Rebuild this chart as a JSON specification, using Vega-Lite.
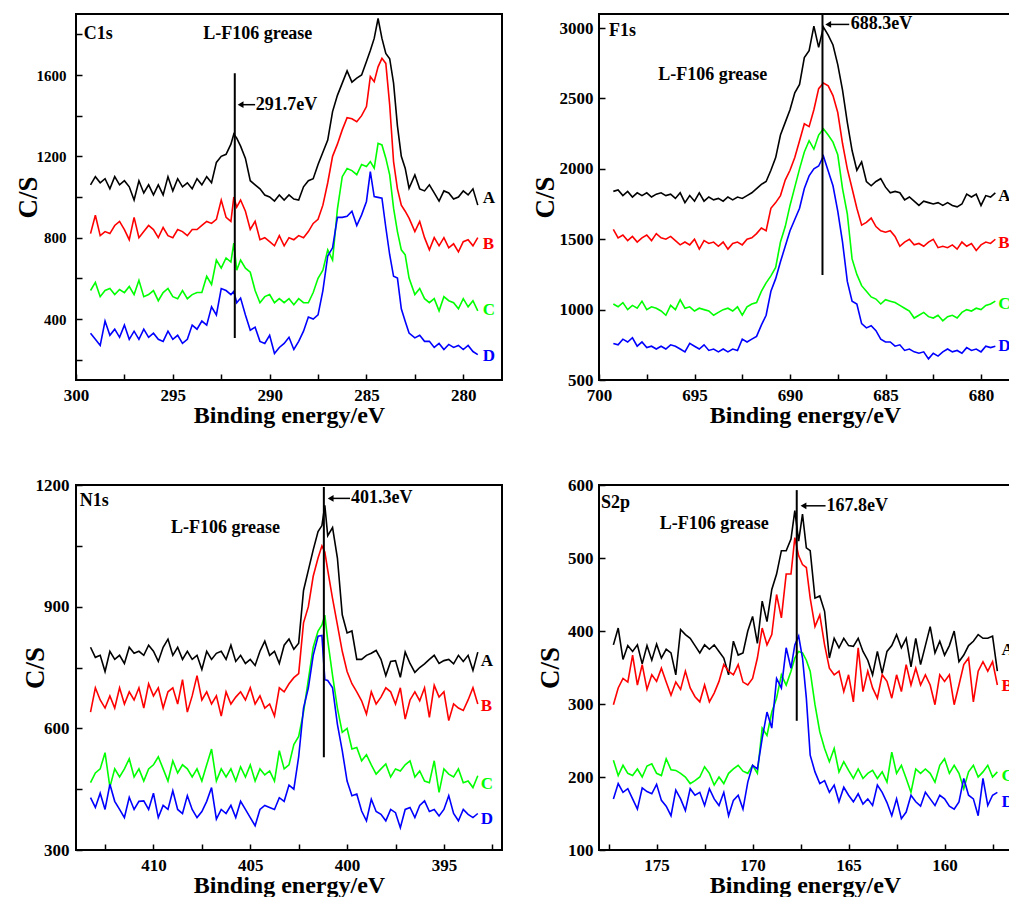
{
"$schema": "https://vega.github.io/schema/vega-lite/v6.json",
"background": "white",
"padding": {"left": 13, "top": 12, "right": 0, "bottom": 0},
"columns": 2,
"spacing": {"row": 105, "column": 97},
"bounds": "flush",
"datasets": {
"c1s": [
{"E":299.25,"A":1060,"B":820,"C":540,"D":330},{"E":299.0,"A":1100,"B":910,"C":580,"D":300},{"E":298.75,"A":1070,"B":810,"C":510,"D":270},{"E":298.5,"A":1090,"B":830,"C":540,"D":390},{"E":298.25,"A":1040,"B":820,"C":550,"D":320},{"E":298.0,"A":1100,"B":860,"C":520,"D":350},{"E":297.75,"A":1060,"B":880,"C":545,"D":310},{"E":297.5,"A":1080,"B":840,"C":530,"D":370},{"E":297.25,"A":1050,"B":790,"C":560,"D":300},{"E":297.0,"A":985,"B":900,"C":520,"D":340},{"E":296.75,"A":1080,"B":800,"C":590,"D":300},{"E":296.5,"A":1020,"B":830,"C":510,"D":350},{"E":296.25,"A":1060,"B":860,"C":520,"D":310},{"E":296.0,"A":1010,"B":840,"C":540,"D":330},{"E":295.75,"A":1060,"B":800,"C":490,"D":300},{"E":295.5,"A":1010,"B":850,"C":530,"D":290},{"E":295.25,"A":1100,"B":810,"C":550,"D":340},{"E":295.0,"A":1030,"B":800,"C":510,"D":300},{"E":294.75,"A":1090,"B":840,"C":500,"D":320},{"E":294.5,"A":1050,"B":830,"C":540,"D":280},{"E":294.25,"A":1070,"B":810,"C":500,"D":300},{"E":294.0,"A":1040,"B":840,"C":520,"D":370},{"E":293.75,"A":1090,"B":840,"C":530,"D":350},{"E":293.5,"A":1060,"B":860,"C":530,"D":390},{"E":293.25,"A":1100,"B":880,"C":610,"D":370},{"E":293.0,"A":1070,"B":870,"C":570,"D":460},{"E":292.75,"A":1170,"B":890,"C":690,"D":420},{"E":292.5,"A":1200,"B":985,"C":650,"D":550},{"E":292.25,"A":1210,"B":900,"C":700,"D":540},{"E":292.0,"A":1260,"B":880,"C":680,"D":520},{"E":291.85,"A":1310,"B":1000,"C":773,"D":536},{"E":291.7,"A":1290,"B":950,"C":640,"D":480},{"E":291.5,"A":1250,"B":985,"C":690,"D":503},{"E":291.25,"A":1190,"B":930,"C":650,"D":420},{"E":291.0,"A":1080,"B":840,"C":630,"D":345},{"E":290.75,"A":1060,"B":880,"C":540,"D":360},{"E":290.5,"A":1040,"B":790,"C":480,"D":290},{"E":290.25,"A":1010,"B":800,"C":510,"D":280},{"E":290.0,"A":1000,"B":780,"C":520,"D":320},{"E":289.75,"A":980,"B":760,"C":480,"D":230},{"E":289.5,"A":1010,"B":810,"C":500,"D":260},{"E":289.25,"A":985,"B":760,"C":480,"D":280},{"E":289.0,"A":1010,"B":800,"C":500,"D":310},{"E":288.75,"A":990,"B":790,"C":470,"D":250},{"E":288.5,"A":985,"B":810,"C":500,"D":290},{"E":288.25,"A":1050,"B":800,"C":480,"D":340},{"E":288.0,"A":1080,"B":830,"C":480,"D":410},{"E":287.75,"A":1090,"B":870,"C":530,"D":400},{"E":287.5,"A":1160,"B":890,"C":600,"D":420},{"E":287.25,"A":1220,"B":960,"C":640,"D":540},{"E":287.0,"A":1280,"B":1070,"C":740,"D":710},{"E":286.75,"A":1420,"B":1200,"C":690,"D":750},{"E":286.5,"A":1500,"B":1260,"C":940,"D":900},{"E":286.25,"A":1560,"B":1330,"C":1100,"D":900},{"E":286.0,"A":1620,"B":1390,"C":1140,"D":905},{"E":285.75,"A":1565,"B":1385,"C":1130,"D":930},{"E":285.5,"A":1585,"B":1370,"C":1110,"D":860},{"E":285.25,"A":1600,"B":1400,"C":1160,"D":912},{"E":285.0,"A":1666,"B":1445,"C":1150,"D":978},{"E":284.8,"A":1720,"B":1592,"C":1174,"D":1125},{"E":284.6,"A":1780,"B":1567,"C":1142,"D":1002},{"E":284.4,"A":1878,"B":1640,"C":1264,"D":998},{"E":284.2,"A":1780,"B":1682,"C":1256,"D":994},{"E":284.0,"A":1706,"B":1657,"C":1191,"D":850},{"E":283.8,"A":1680,"B":1453,"C":1109,"D":716},{"E":283.6,"A":1560,"B":1174,"C":945,"D":610},{"E":283.4,"A":1350,"B":1040,"C":830,"D":601},{"E":283.2,"A":1200,"B":960,"C":740,"D":450},{"E":283.0,"A":1142,"B":930,"C":716,"D":389},{"E":282.8,"A":1043,"B":896,"C":601,"D":331},{"E":282.5,"A":1109,"B":830,"C":520,"D":307},{"E":282.25,"A":1040,"B":880,"C":550,"D":320},{"E":282.0,"A":1030,"B":800,"C":500,"D":290},{"E":281.75,"A":1060,"B":740,"C":480,"D":290},{"E":281.5,"A":1020,"B":800,"C":500,"D":260},{"E":281.25,"A":980,"B":760,"C":440,"D":280},{"E":281.0,"A":1030,"B":800,"C":510,"D":250},{"E":280.75,"A":1020,"B":750,"C":490,"D":275},{"E":280.5,"A":990,"B":770,"C":480,"D":260},{"E":280.25,"A":1000,"B":730,"C":450,"D":270},{"E":280.0,"A":1030,"B":780,"C":500,"D":250},{"E":279.75,"A":1010,"B":790,"C":460,"D":270},{"E":279.5,"A":1040,"B":760,"C":490,"D":240},{"E":279.25,"A":960,"B":800,"C":440,"D":225}
],
"f1s": [
{"E":699.25,"A":1840,"B":1570,"C":1040,"D":760},{"E":699.0,"A":1850,"B":1510,"C":1020,"D":750},{"E":698.75,"A":1810,"B":1530,"C":1050,"D":790},{"E":698.5,"A":1840,"B":1490,"C":1000,"D":770},{"E":698.25,"A":1800,"B":1520,"C":1030,"D":800},{"E":698.0,"A":1830,"B":1480,"C":1010,"D":740},{"E":697.75,"A":1810,"B":1510,"C":1060,"D":770},{"E":697.5,"A":1830,"B":1530,"C":1000,"D":730},{"E":697.25,"A":1800,"B":1490,"C":1020,"D":740},{"E":697.0,"A":1820,"B":1540,"C":1010,"D":720},{"E":696.75,"A":1830,"B":1510,"C":990,"D":740},{"E":696.5,"A":1810,"B":1500,"C":960,"D":720},{"E":696.25,"A":1820,"B":1520,"C":1030,"D":750},{"E":696.0,"A":1790,"B":1490,"C":1000,"D":740},{"E":695.75,"A":1830,"B":1460,"C":1070,"D":720},{"E":695.5,"A":1760,"B":1480,"C":1010,"D":700},{"E":695.25,"A":1810,"B":1460,"C":1020,"D":760},{"E":695.0,"A":1770,"B":1500,"C":990,"D":740},{"E":694.75,"A":1830,"B":1430,"C":1010,"D":720},{"E":694.5,"A":1770,"B":1490,"C":1000,"D":750},{"E":694.25,"A":1800,"B":1470,"C":990,"D":710},{"E":694.0,"A":1780,"B":1480,"C":960,"D":720},{"E":693.75,"A":1790,"B":1450,"C":980,"D":700},{"E":693.5,"A":1770,"B":1480,"C":1000,"D":720},{"E":693.25,"A":1800,"B":1430,"C":1010,"D":700},{"E":693.0,"A":1780,"B":1470,"C":990,"D":720},{"E":692.75,"A":1800,"B":1480,"C":1020,"D":710},{"E":692.5,"A":1790,"B":1460,"C":960,"D":790},{"E":692.25,"A":1810,"B":1500,"C":1020,"D":770},{"E":692.0,"A":1830,"B":1510,"C":1040,"D":790},{"E":691.75,"A":1860,"B":1540,"C":1050,"D":810},{"E":691.5,"A":1890,"B":1580,"C":1130,"D":890},{"E":691.25,"A":1910,"B":1560,"C":1190,"D":960},{"E":691.0,"A":1990,"B":1720,"C":1240,"D":1130},{"E":690.75,"A":2080,"B":1760,"C":1300,"D":1220},{"E":690.5,"A":2240,"B":1810,"C":1480,"D":1340},{"E":690.25,"A":2330,"B":1920,"C":1590,"D":1450},{"E":690.0,"A":2420,"B":1990,"C":1740,"D":1560},{"E":689.75,"A":2540,"B":2080,"C":1870,"D":1640},{"E":689.5,"A":2600,"B":2200,"C":2000,"D":1720},{"E":689.25,"A":2790,"B":2320,"C":2120,"D":1860},{"E":689.0,"A":2840,"B":2300,"C":2200,"D":1950},{"E":688.75,"A":3014,"B":2420,"C":2140,"D":2000},{"E":688.5,"A":2863,"B":2570,"C":2240,"D":2020},{"E":688.25,"A":3007,"B":2610,"C":2285,"D":2090},{"E":688.0,"A":2950,"B":2590,"C":2240,"D":1985},{"E":687.75,"A":2880,"B":2520,"C":2190,"D":1880},{"E":687.5,"A":2740,"B":2400,"C":2100,"D":1700},{"E":687.25,"A":2560,"B":2180,"C":1860,"D":1480},{"E":687.0,"A":2330,"B":2000,"C":1680,"D":1200},{"E":686.75,"A":2130,"B":1860,"C":1360,"D":1060},{"E":686.5,"A":1990,"B":1720,"C":1250,"D":1040},{"E":686.25,"A":2050,"B":1600,"C":1170,"D":900},{"E":686.0,"A":1910,"B":1620,"C":1130,"D":870},{"E":685.75,"A":1880,"B":1650,"C":1090,"D":885},{"E":685.5,"A":1910,"B":1590,"C":1075,"D":850},{"E":685.25,"A":1930,"B":1560,"C":1040,"D":790},{"E":685.0,"A":1870,"B":1550,"C":1070,"D":770},{"E":684.75,"A":1830,"B":1560,"C":1060,"D":770},{"E":684.5,"A":1840,"B":1520,"C":1050,"D":740},{"E":684.25,"A":1830,"B":1450,"C":1030,"D":750},{"E":684.0,"A":1780,"B":1480,"C":1010,"D":710},{"E":683.75,"A":1800,"B":1500,"C":990,"D":720},{"E":683.5,"A":1770,"B":1460,"C":940,"D":700},{"E":683.25,"A":1740,"B":1470,"C":960,"D":690},{"E":683.0,"A":1770,"B":1450,"C":980,"D":700},{"E":682.75,"A":1760,"B":1480,"C":950,"D":650},{"E":682.5,"A":1750,"B":1500,"C":940,"D":690},{"E":682.25,"A":1760,"B":1440,"C":960,"D":670},{"E":682.0,"A":1740,"B":1450,"C":920,"D":700},{"E":681.75,"A":1760,"B":1440,"C":950,"D":720},{"E":681.5,"A":1740,"B":1460,"C":960,"D":700},{"E":681.25,"A":1730,"B":1430,"C":940,"D":710},{"E":681.0,"A":1750,"B":1480,"C":980,"D":690},{"E":680.75,"A":1820,"B":1450,"C":1000,"D":730},{"E":680.5,"A":1800,"B":1470,"C":990,"D":710},{"E":680.25,"A":1820,"B":1420,"C":1010,"D":720},{"E":680.0,"A":1740,"B":1460,"C":1000,"D":700},{"E":679.75,"A":1810,"B":1480,"C":1030,"D":740},{"E":679.5,"A":1800,"B":1470,"C":1040,"D":730},{"E":679.25,"A":1830,"B":1500,"C":1060,"D":740}
],
"n1s": [
{"E":413.25,"A":800,"B":640,"C":466,"D":429},{"E":413.0,"A":775,"B":700,"C":490,"D":405},{"E":412.75,"A":780,"B":670,"C":500,"D":440},{"E":412.5,"A":740,"B":650,"C":540,"D":400},{"E":412.25,"A":790,"B":680,"C":455,"D":462},{"E":412.0,"A":770,"B":650,"C":500,"D":420},{"E":411.75,"A":780,"B":700,"C":480,"D":400},{"E":411.5,"A":760,"B":660,"C":500,"D":380},{"E":411.25,"A":800,"B":690,"C":525,"D":430},{"E":411.0,"A":785,"B":670,"C":480,"D":400},{"E":410.75,"A":790,"B":700,"C":500,"D":420},{"E":410.5,"A":780,"B":650,"C":470,"D":421},{"E":410.25,"A":805,"B":710,"C":500,"D":400},{"E":410.0,"A":790,"B":680,"C":510,"D":440},{"E":409.75,"A":765,"B":700,"C":530,"D":380},{"E":409.5,"A":800,"B":650,"C":500,"D":410},{"E":409.25,"A":820,"B":690,"C":470,"D":400},{"E":409.0,"A":780,"B":700,"C":520,"D":446},{"E":408.75,"A":800,"B":660,"C":490,"D":400},{"E":408.5,"A":770,"B":720,"C":510,"D":390},{"E":408.25,"A":790,"B":640,"C":500,"D":434},{"E":408.0,"A":770,"B":680,"C":480,"D":400},{"E":407.75,"A":780,"B":730,"C":500,"D":380},{"E":407.5,"A":745,"B":670,"C":470,"D":395},{"E":407.25,"A":790,"B":690,"C":510,"D":420},{"E":407.0,"A":770,"B":660,"C":549,"D":454},{"E":406.75,"A":785,"B":680,"C":470,"D":376},{"E":406.5,"A":790,"B":630,"C":500,"D":400},{"E":406.25,"A":770,"B":690,"C":480,"D":390},{"E":406.0,"A":805,"B":660,"C":500,"D":410},{"E":405.75,"A":765,"B":677,"C":470,"D":380},{"E":405.5,"A":780,"B":690,"C":505,"D":420},{"E":405.25,"A":760,"B":670,"C":480,"D":400},{"E":405.0,"A":770,"B":700,"C":510,"D":380},{"E":404.75,"A":755,"B":660,"C":470,"D":360},{"E":404.5,"A":790,"B":680,"C":500,"D":400},{"E":404.25,"A":815,"B":650,"C":485,"D":410},{"E":404.0,"A":780,"B":660,"C":495,"D":405},{"E":403.75,"A":790,"B":630,"C":470,"D":400},{"E":403.5,"A":760,"B":700,"C":545,"D":429},{"E":403.25,"A":805,"B":690,"C":500,"D":420},{"E":403.0,"A":820,"B":710,"C":510,"D":460},{"E":402.75,"A":795,"B":725,"C":560,"D":450},{"E":402.5,"A":810,"B":735,"C":580,"D":530},{"E":402.25,"A":940,"B":860,"C":640,"D":650},{"E":402.0,"A":990,"B":900,"C":720,"D":700},{"E":401.75,"A":1040,"B":975,"C":800,"D":780},{"E":401.5,"A":1085,"B":1020,"C":840,"D":827},{"E":401.3,"A":1100,"B":1050,"C":855,"D":829},{"E":401.15,"A":1150,"B":1035,"C":879,"D":720},{"E":401.0,"A":1075,"B":990,"C":817,"D":718},{"E":400.75,"A":1095,"B":920,"C":730,"D":700},{"E":400.5,"A":1020,"B":855,"C":650,"D":610},{"E":400.25,"A":880,"B":790,"C":590,"D":545},{"E":400.0,"A":835,"B":740,"C":600,"D":470},{"E":399.75,"A":840,"B":710,"C":549,"D":434},{"E":399.5,"A":770,"B":690,"C":553,"D":438},{"E":399.25,"A":770,"B":668,"C":520,"D":396},{"E":399.0,"A":780,"B":635,"C":535,"D":372},{"E":398.75,"A":785,"B":690,"C":510,"D":425},{"E":398.5,"A":792,"B":660,"C":487,"D":395},{"E":398.25,"A":770,"B":677,"C":500,"D":388},{"E":398.0,"A":730,"B":700,"C":512,"D":372},{"E":397.75,"A":765,"B":690,"C":480,"D":400},{"E":397.5,"A":767,"B":660,"C":500,"D":392},{"E":397.25,"A":726,"B":700,"C":495,"D":355},{"E":397.0,"A":788,"B":623,"C":510,"D":400},{"E":396.75,"A":760,"B":670,"C":520,"D":405},{"E":396.5,"A":738,"B":690,"C":480,"D":380},{"E":396.25,"A":750,"B":668,"C":495,"D":410},{"E":396.0,"A":759,"B":700,"C":470,"D":421},{"E":395.75,"A":770,"B":627,"C":466,"D":395},{"E":395.5,"A":780,"B":706,"C":520,"D":400},{"E":395.25,"A":760,"B":677,"C":442,"D":384},{"E":395.0,"A":767,"B":690,"C":500,"D":400},{"E":394.75,"A":770,"B":619,"C":487,"D":434},{"E":394.5,"A":759,"B":660,"C":480,"D":390},{"E":394.25,"A":780,"B":650,"C":500,"D":372},{"E":394.0,"A":765,"B":644,"C":466,"D":400},{"E":393.75,"A":780,"B":670,"C":470,"D":388},{"E":393.5,"A":743,"B":700,"C":454,"D":380},{"E":393.25,"A":788,"B":660,"C":483,"D":390}
],
"s2p": [
{"E":177.25,"A":381,"B":299,"C":223,"D":170},{"E":177.0,"A":404,"B":322,"C":202,"D":191},{"E":176.75,"A":361,"B":335,"C":216,"D":179},{"E":176.5,"A":380,"B":330,"C":205,"D":184},{"E":176.25,"A":372,"B":367,"C":202,"D":170},{"E":176.0,"A":381,"B":326,"C":211,"D":156},{"E":175.75,"A":355,"B":354,"C":200,"D":185},{"E":175.5,"A":380,"B":320,"C":215,"D":180},{"E":175.25,"A":360,"B":340,"C":218,"D":177},{"E":175.0,"A":382,"B":331,"C":205,"D":190},{"E":174.75,"A":363,"B":349,"C":202,"D":168},{"E":174.5,"A":375,"B":330,"C":225,"D":160},{"E":174.25,"A":370,"B":312,"C":210,"D":147},{"E":174.0,"A":340,"B":330,"C":209,"D":182},{"E":173.75,"A":402,"B":320,"C":205,"D":170},{"E":173.5,"A":395,"B":345,"C":200,"D":154},{"E":173.25,"A":390,"B":322,"C":191,"D":184},{"E":173.0,"A":380,"B":310,"C":195,"D":175},{"E":172.75,"A":370,"B":303,"C":200,"D":179},{"E":172.5,"A":381,"B":326,"C":214,"D":161},{"E":172.25,"A":375,"B":303,"C":205,"D":184},{"E":172.0,"A":381,"B":315,"C":189,"D":170},{"E":171.75,"A":372,"B":331,"C":200,"D":161},{"E":171.5,"A":363,"B":354,"C":191,"D":179},{"E":171.25,"A":340,"B":345,"C":205,"D":147},{"E":171.0,"A":386,"B":340,"C":211,"D":168},{"E":170.75,"A":367,"B":354,"C":216,"D":175},{"E":170.5,"A":370,"B":330,"C":208,"D":156},{"E":170.25,"A":400,"B":326,"C":205,"D":193},{"E":170.0,"A":420,"B":335,"C":216,"D":216},{"E":169.75,"A":383,"B":363,"C":205,"D":211},{"E":169.5,"A":441,"B":404,"C":267,"D":253},{"E":169.25,"A":413,"B":381,"C":257,"D":289},{"E":169.0,"A":457,"B":395,"C":289,"D":267},{"E":168.75,"A":478,"B":450,"C":308,"D":335},{"E":168.5,"A":510,"B":418,"C":340,"D":322},{"E":168.25,"A":510,"B":478,"C":326,"D":377},{"E":168.0,"A":526,"B":478,"C":345,"D":349},{"E":167.8,"A":565,"B":528,"C":363,"D":381},{"E":167.6,"A":523,"B":503,"C":372,"D":393},{"E":167.4,"A":560,"B":491,"C":370,"D":363},{"E":167.2,"A":514,"B":487,"C":360,"D":308},{"E":167.0,"A":510,"B":445,"C":345,"D":230},{"E":166.75,"A":445,"B":406,"C":299,"D":207},{"E":166.5,"A":448,"B":422,"C":262,"D":191},{"E":166.25,"A":427,"B":381,"C":239,"D":195},{"E":166.0,"A":363,"B":349,"C":221,"D":179},{"E":165.75,"A":390,"B":340,"C":239,"D":189},{"E":165.5,"A":377,"B":345,"C":207,"D":166},{"E":165.25,"A":390,"B":317,"C":221,"D":186},{"E":165.0,"A":380,"B":340,"C":209,"D":175},{"E":164.75,"A":379,"B":303,"C":198,"D":166},{"E":164.5,"A":390,"B":377,"C":211,"D":177},{"E":164.25,"A":372,"B":317,"C":198,"D":163},{"E":164.0,"A":360,"B":345,"C":205,"D":170},{"E":163.75,"A":340,"B":322,"C":209,"D":161},{"E":163.5,"A":372,"B":308,"C":198,"D":189},{"E":163.25,"A":342,"B":340,"C":207,"D":179},{"E":163.0,"A":372,"B":331,"C":193,"D":165},{"E":162.75,"A":380,"B":308,"C":234,"D":147},{"E":162.5,"A":395,"B":340,"C":205,"D":170},{"E":162.25,"A":377,"B":317,"C":216,"D":143},{"E":162.0,"A":390,"B":354,"C":198,"D":152},{"E":161.75,"A":351,"B":326,"C":179,"D":175},{"E":161.5,"A":390,"B":349,"C":211,"D":166},{"E":161.25,"A":354,"B":326,"C":205,"D":160},{"E":161.0,"A":380,"B":340,"C":211,"D":179},{"E":160.75,"A":406,"B":326,"C":205,"D":170},{"E":160.5,"A":370,"B":299,"C":193,"D":161},{"E":160.25,"A":386,"B":340,"C":216,"D":175},{"E":160.0,"A":367,"B":331,"C":225,"D":170},{"E":159.75,"A":380,"B":340,"C":205,"D":160},{"E":159.5,"A":400,"B":299,"C":216,"D":156},{"E":159.25,"A":358,"B":326,"C":205,"D":166},{"E":159.0,"A":367,"B":354,"C":184,"D":198},{"E":158.75,"A":380,"B":363,"C":207,"D":175},{"E":158.5,"A":386,"B":303,"C":216,"D":170},{"E":158.25,"A":395,"B":345,"C":200,"D":147},{"E":158.0,"A":390,"B":358,"C":207,"D":198},{"E":157.75,"A":390,"B":345,"C":216,"D":161},{"E":157.5,"A":393,"B":358,"C":200,"D":175},{"E":157.25,"A":345,"B":326,"C":207,"D":179}
]
},
"concat": [
{
"width": 426, "height": 366,
"layer": [
{"data": {"name": "c1s"}, "transform": [{"fold": ["A","B","C","D"], "as": ["s","v"]}],
 "mark": {"type": "line", "strokeWidth": 1.6, "clip": true},
 "encoding": {
  "x": {"field": "E", "type": "quantitative", "scale": {"domain": [278, 300], "reverse": true, "nice": false, "zero": false},
        "axis": {"title": "Binding energy/eV", "titleFontSize": 24, "titleY": 23, "titleBaseline": "top", "labelFontSize": 17, "labelPadding": 13,
                 "values": [300,297.5,295,292.5,290,287.5,285,282.5,280], "labelExpr": "datum.value % 5 == 0 ? datum.label : ''"}},
  "y": {"field": "v", "type": "quantitative", "scale": {"domain": [100, 1900], "nice": false, "zero": false},
        "axis": {"title": "C/S", "titleFontSize": 27, "titleX": -40, "titleBaseline": "alphabetic", "labelFontSize": 15, "labelPadding": 16,
                 "values": [200,400,600,800,1000,1200,1400,1600,1800], "labelExpr": "datum.value % 400 == 0 ? datum.label : ''"}},
  "color": {"field": "s", "type": "nominal", "scale": {"domain": ["A","B","C","D"], "range": ["#000000","#ff0000","#00ff00","#0000ff"]}, "legend": null}
 }},
{"data": {"values": [{"E": 291.8, "v": 307, "v2": 1608}]}, "mark": {"type": "rule", "strokeWidth": 2, "color": "#000"},
 "encoding": {"x": {"field": "E", "type": "quantitative"}, "y": {"field": "v", "type": "quantitative"}, "y2": {"field": "v2"}}},
{"data": {"values": [{"E": 291.5, "E2": 290.75, "v": 1454}]}, "mark": {"type": "rule", "strokeWidth": 1.5, "color": "#000"},
 "encoding": {"x": {"field": "E", "type": "quantitative"}, "x2": {"field": "E2"}, "y": {"field": "v", "type": "quantitative"}}},
{"data": {"values": [{"E": 291.5, "v": 1454}]}, "mark": {"type": "point", "shape": "triangle-left", "filled": true, "color": "#000", "size": 45, "opacity": 1},
 "encoding": {"x": {"field": "E", "type": "quantitative"}, "y": {"field": "v", "type": "quantitative"}}},
{"data": {"values": [{"E": 290.72, "v": 1454, "t": "291.7eV"}, {"E": 299.6, "v": 1804, "t": "C1s"}, {"E": 293.43, "v": 1800, "t": "L-F106 grease"}]},
 "mark": {"type": "text", "align": "left", "baseline": "middle", "fontSize": 18, "font": "Liberation Serif", "fontWeight": "bold", "color": "#000", "clip": true},
 "encoding": {"x": {"field": "E", "type": "quantitative"}, "y": {"field": "v", "type": "quantitative"}, "text": {"field": "t"}}},
{"data": {"values": [{"E": 279.0, "v": 994, "s": "A"}, {"E": 279.0, "v": 768, "s": "B"}, {"E": 279.0, "v": 446, "s": "C"}, {"E": 279.0, "v": 217, "s": "D"}]},
 "mark": {"type": "text", "align": "left", "baseline": "middle", "fontSize": 17, "font": "Liberation Serif", "fontWeight": "bold", "clip": true},
 "encoding": {"x": {"field": "E", "type": "quantitative"}, "y": {"field": "v", "type": "quantitative"}, "text": {"field": "s"}, "color": {"field": "s", "type": "nominal", "legend": null}}}
]
},
{
"width": 412, "height": 366,
"layer": [
{"data": {"name": "f1s"}, "transform": [{"fold": ["A","B","C","D"], "as": ["s","v"]}],
 "mark": {"type": "line", "strokeWidth": 1.6, "clip": true},
 "encoding": {
  "x": {"field": "E", "type": "quantitative", "scale": {"domain": [678.43, 700], "reverse": true, "nice": false, "zero": false},
        "axis": {"title": "Binding energy/eV", "titleFontSize": 24, "titleY": 23, "titleBaseline": "top", "labelFontSize": 17, "labelPadding": 13,
                 "values": [700,697.5,695,692.5,690,687.5,685,682.5,680], "labelExpr": "datum.value % 5 == 0 ? datum.label : ''"}},
  "y": {"field": "v", "type": "quantitative", "scale": {"domain": [500, 3100], "nice": false, "zero": false},
        "axis": {"title": "C/S", "titleFontSize": 27, "titleX": -46, "titleBaseline": "alphabetic", "labelFontSize": 17, "labelPadding": 12,
                 "values": [500,750,1000,1250,1500,1750,2000,2250,2500,2750,3000], "labelExpr": "datum.value % 500 == 0 ? datum.label : ''"}},
  "color": {"field": "s", "type": "nominal", "scale": {"domain": ["A","B","C","D"], "range": ["#000000","#ff0000","#00ff00","#0000ff"]}, "legend": null}
 }},
{"data": {"values": [{"E": 688.3, "v": 1246, "v2": 3100}]}, "mark": {"type": "rule", "strokeWidth": 2, "color": "#000"},
 "encoding": {"x": {"field": "E", "type": "quantitative"}, "y": {"field": "v", "type": "quantitative"}, "y2": {"field": "v2"}}},
{"data": {"values": [{"E": 688.0, "E2": 686.9, "v": 3026}]}, "mark": {"type": "rule", "strokeWidth": 1.5, "color": "#000"},
 "encoding": {"x": {"field": "E", "type": "quantitative"}, "x2": {"field": "E2"}, "y": {"field": "v", "type": "quantitative"}}},
{"data": {"values": [{"E": 688.0, "v": 3026}]}, "mark": {"type": "point", "shape": "triangle-left", "filled": true, "color": "#000", "size": 45, "opacity": 1},
 "encoding": {"x": {"field": "E", "type": "quantitative"}, "y": {"field": "v", "type": "quantitative"}}},
{"data": {"values": [{"E": 686.82, "v": 3026, "t": "688.3eV"}, {"E": 699.48, "v": 2981, "t": "F1s"}, {"E": 696.9, "v": 2666, "t": "L-F106 grease"}]},
 "mark": {"type": "text", "align": "left", "baseline": "middle", "fontSize": 18, "font": "Liberation Serif", "fontWeight": "bold", "color": "#000", "clip": true},
 "encoding": {"x": {"field": "E", "type": "quantitative"}, "y": {"field": "v", "type": "quantitative"}, "text": {"field": "t"}}},
{"data": {"values": [{"E": 679.1, "v": 1810, "s": "A"}, {"E": 679.1, "v": 1473, "s": "B"}, {"E": 679.1, "v": 1040, "s": "C"}, {"E": 679.1, "v": 744, "s": "D"}]},
 "mark": {"type": "text", "align": "left", "baseline": "middle", "fontSize": 17, "font": "Liberation Serif", "fontWeight": "bold", "clip": true},
 "encoding": {"x": {"field": "E", "type": "quantitative"}, "y": {"field": "v", "type": "quantitative"}, "text": {"field": "s"}, "color": {"field": "s", "type": "nominal", "legend": null}}}
]
},
{
"width": 426, "height": 365,
"layer": [
{"data": {"name": "n1s"}, "transform": [{"fold": ["A","B","C","D"], "as": ["s","v"]}],
 "mark": {"type": "line", "strokeWidth": 1.6, "clip": true},
 "encoding": {
  "x": {"field": "E", "type": "quantitative", "scale": {"domain": [392, 414], "reverse": true, "nice": false, "zero": false},
        "axis": {"title": "Binding energy/eV", "titleFontSize": 24, "titleY": 23, "titleBaseline": "top", "labelFontSize": 17, "labelPadding": 13,
                 "values": [412.5,410,407.5,405,402.5,400,397.5,395,392.5], "labelExpr": "datum.value % 5 == 0 ? datum.label : ''"}},
  "y": {"field": "v", "type": "quantitative", "scale": {"domain": [300, 1200], "nice": false, "zero": false},
        "axis": {"title": "C/S", "titleFontSize": 27, "titleX": -33, "titleBaseline": "alphabetic", "labelFontSize": 17, "labelPadding": 13,
                 "values": [300,450,600,750,900,1050,1200], "labelExpr": "datum.value % 300 == 0 ? datum.label : ''"}},
  "color": {"field": "s", "type": "nominal", "scale": {"domain": ["A","B","C","D"], "range": ["#000000","#ff0000","#00ff00","#0000ff"]}, "legend": null}
 }},
{"data": {"values": [{"E": 401.2, "v": 529, "v2": 1195}]}, "mark": {"type": "rule", "strokeWidth": 2, "color": "#000"},
 "encoding": {"x": {"field": "E", "type": "quantitative"}, "y": {"field": "v", "type": "quantitative"}, "y2": {"field": "v2"}}},
{"data": {"values": [{"E": 400.85, "E2": 399.85, "v": 1167}]}, "mark": {"type": "rule", "strokeWidth": 1.5, "color": "#000"},
 "encoding": {"x": {"field": "E", "type": "quantitative"}, "x2": {"field": "E2"}, "y": {"field": "v", "type": "quantitative"}}},
{"data": {"values": [{"E": 400.85, "v": 1167}]}, "mark": {"type": "point", "shape": "triangle-left", "filled": true, "color": "#000", "size": 45, "opacity": 1},
 "encoding": {"x": {"field": "E", "type": "quantitative"}, "y": {"field": "v", "type": "quantitative"}}},
{"data": {"values": [{"E": 399.8, "v": 1167, "t": "401.3eV"}, {"E": 413.8, "v": 1161, "t": "N1s"}, {"E": 409.1, "v": 1093, "t": "L-F106 grease"}]},
 "mark": {"type": "text", "align": "left", "baseline": "middle", "fontSize": 18, "font": "Liberation Serif", "fontWeight": "bold", "color": "#000", "clip": true},
 "encoding": {"x": {"field": "E", "type": "quantitative"}, "y": {"field": "v", "type": "quantitative"}, "text": {"field": "t"}}},
{"data": {"values": [{"E": 393.1, "v": 765, "s": "A"}, {"E": 393.1, "v": 656, "s": "B"}, {"E": 393.1, "v": 462, "s": "C"}, {"E": 393.1, "v": 377, "s": "D"}]},
 "mark": {"type": "text", "align": "left", "baseline": "middle", "fontSize": 17, "font": "Liberation Serif", "fontWeight": "bold", "clip": true},
 "encoding": {"x": {"field": "E", "type": "quantitative"}, "y": {"field": "v", "type": "quantitative"}, "text": {"field": "s"}, "color": {"field": "s", "type": "nominal", "legend": null}}}
]
},
{
"width": 412, "height": 365,
"layer": [
{"data": {"name": "s2p"}, "transform": [{"fold": ["A","B","C","D"], "as": ["s","v"]}],
 "mark": {"type": "line", "strokeWidth": 1.6, "clip": true},
 "encoding": {
  "x": {"field": "E", "type": "quantitative", "scale": {"domain": [156.54, 178], "reverse": true, "nice": false, "zero": false},
        "axis": {"title": "Binding energy/eV", "titleFontSize": 24, "titleY": 23, "titleBaseline": "top", "labelFontSize": 17, "labelPadding": 13,
                 "values": [177.5,175,172.5,170,167.5,165,162.5,160,157.5], "labelExpr": "datum.value % 5 == 0 ? datum.label : ''"}},
  "y": {"field": "v", "type": "quantitative", "scale": {"domain": [100, 600], "nice": false, "zero": false},
        "axis": {"title": "C/S", "titleFontSize": 27, "titleX": -41, "titleBaseline": "alphabetic", "labelFontSize": 17, "labelPadding": 12,
                 "values": [100,150,200,250,300,350,400,450,500,550,600], "labelExpr": "datum.value % 100 == 0 ? datum.label : ''"}},
  "color": {"field": "s", "type": "nominal", "scale": {"domain": ["A","B","C","D"], "range": ["#000000","#ff0000","#00ff00","#0000ff"]}, "legend": null}
 }},
{"data": {"values": [{"E": 167.7, "v": 277, "v2": 593}]}, "mark": {"type": "rule", "strokeWidth": 2, "color": "#000"},
 "encoding": {"x": {"field": "E", "type": "quantitative"}, "y": {"field": "v", "type": "quantitative"}, "y2": {"field": "v2"}}},
{"data": {"values": [{"E": 167.35, "E2": 166.2, "v": 571.5}]}, "mark": {"type": "rule", "strokeWidth": 1.5, "color": "#000"},
 "encoding": {"x": {"field": "E", "type": "quantitative"}, "x2": {"field": "E2"}, "y": {"field": "v", "type": "quantitative"}}},
{"data": {"values": [{"E": 167.35, "v": 571.5}]}, "mark": {"type": "point", "shape": "triangle-left", "filled": true, "color": "#000", "size": 45, "opacity": 1},
 "encoding": {"x": {"field": "E", "type": "quantitative"}, "y": {"field": "v", "type": "quantitative"}}},
{"data": {"values": [{"E": 166.15, "v": 571.5, "t": "167.8eV"}, {"E": 177.9, "v": 576, "t": "S2p"}, {"E": 174.84, "v": 546, "t": "L-F106 grease"}]},
 "mark": {"type": "text", "align": "left", "baseline": "middle", "fontSize": 18, "font": "Liberation Serif", "fontWeight": "bold", "color": "#000", "clip": true},
 "encoding": {"x": {"field": "E", "type": "quantitative"}, "y": {"field": "v", "type": "quantitative"}, "text": {"field": "t"}}},
{"data": {"values": [{"E": 157.04, "v": 374, "s": "A"}, {"E": 157.04, "v": 324, "s": "B"}, {"E": 157.04, "v": 202, "s": "C"}, {"E": 157.04, "v": 166, "s": "D"}]},
 "mark": {"type": "text", "align": "left", "baseline": "middle", "fontSize": 17, "font": "Liberation Serif", "fontWeight": "bold", "clip": true},
 "encoding": {"x": {"field": "E", "type": "quantitative"}, "y": {"field": "v", "type": "quantitative"}, "text": {"field": "s"}, "color": {"field": "s", "type": "nominal", "legend": null}}}
]
}
],
"config": {
 "view": {"stroke": "#000000", "strokeWidth": 2},
 "axis": {"domain": false, "grid": false, "ticks": true, "tickColor": "#000000", "tickWidth": 1.5, "tickSize": -6, "format": "d",
          "labelFont": "Liberation Serif", "labelFontWeight": "bold", "labelColor": "#000000", "labelFlush": false, "labelOverlap": false, "labelBound": false,
          "titleFont": "Liberation Serif", "titleFontWeight": "bold", "titleColor": "#000000"}
}
}
